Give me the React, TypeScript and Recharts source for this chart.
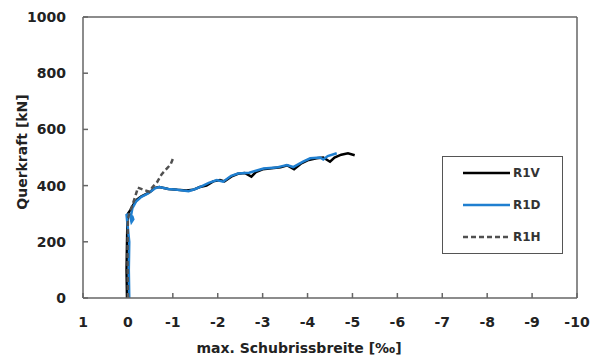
import { Line, LineChart, ReferenceLine, XAxis, YAxis } from 'recharts';

// Querkraft [kN] über max. Schubrissbreite [‰] für R1V, R1D, R1H
const R1V_X = [0.02, 0.03, 0.02, 0.01, 0.0, -0.05, -0.12, -0.2, -0.3, -0.4, -0.5, -0.6, -0.7, -0.9, -1.1, -1.3, -1.45, -1.6, -1.75, -1.9, -2.05, -2.15, -2.3, -2.45, -2.6, -2.75, -2.85, -3.0, -3.2, -3.4, -3.55, -3.7, -3.85, -4.0, -4.2, -4.35, -4.5, -4.6, -4.75, -4.9, -5.05];
const R1V_Y = [0, 100, 200, 280, 300, 312, 332, 350, 362, 370, 378, 392, 395, 388, 385, 383, 385, 395, 400, 415, 420, 415, 432, 442, 445, 432, 448, 458, 462, 465, 472, 458, 478, 490, 497, 500, 485, 500, 510, 515, 508];

const R1D_X = [-0.03, -0.02, -0.03, 0.03, -0.02, -0.1, -0.12, -0.08, -0.06, -0.1, -0.18, -0.3, -0.45, -0.6, -0.7, -0.9, -1.1, -1.35, -1.5, -1.65, -1.8, -1.98, -2.12, -2.3, -2.45, -2.7, -2.85, -3.02, -3.3, -3.54, -3.68, -3.9, -4.06, -4.28, -4.35, -4.45, -4.65];
const R1D_Y = [0, 100, 200, 295, 298, 290, 280, 270, 285, 320, 343, 360, 372, 390, 395, 388, 385, 380, 388, 398, 410, 420, 414, 435, 443, 446, 453, 461, 464, 473, 466, 485, 497, 500, 493, 505, 515];

const R1H_X = [0.0, 0.01, 0.0, -0.03, -0.1, -0.2, -0.22, -0.35, -0.48, -0.55, -0.65, -0.75, -0.85, -0.95, -1.0];
const R1H_Y = [0, 150, 280, 300, 330, 380, 393, 385, 378, 395, 412, 440, 458, 475, 495];

const X_TICKS = [1, 0, -1, -2, -3, -4, -5, -6, -7, -8, -9, -10];
const Y_TICKS = [0, 200, 400, 600, 800, 1000];

const SERIES = [
  { name: 'R1V', color: '#000000', dash: undefined as string | undefined },
  { name: 'R1D', color: '#1f7fd0', dash: undefined as string | undefined },
  { name: 'R1H', color: '#505050', dash: '5 3' },
];

const zip = (xs: number[], ys: number[]) => xs.map((x, i) => ({ x, y: ys[i] }));

const FONT = '"DejaVu Sans", sans-serif';
const AXIS = '#666666';
const TICK = { fontFamily: FONT, fontWeight: 700, fontSize: 14, fill: '#222' };

const LegendBox = () => (
  <div
    style={{
      position: 'absolute',
      left: 442,
      top: 156,
      width: 121,
      height: 98,
      boxSizing: 'border-box',
      border: '1.5px solid #555',
      background: '#fff',
    }}
  >
    <svg width={118} height={95}>
      {SERIES.map((s, i) => (
        <g key={s.name} transform={`translate(0, ${16 + i * 32})`}>
          <line x1={20} x2={67} y1={0} y2={0} stroke={s.color} strokeWidth={2.5} strokeDasharray={s.dash} />
          <text x={70} y={4} fontFamily={FONT} fontWeight={700} fontSize={12} fill="#333">
            {s.name}
          </text>
        </g>
      ))}
    </svg>
  </div>
);

export default function App() {
  const data = [zip(R1V_X, R1V_Y), zip(R1D_X, R1D_Y), zip(R1H_X, R1H_Y)];

  return (
    <div style={{ position: 'absolute', left: 0, top: 0, width: 591, height: 361, background: '#fff' }}>
      <LineChart width={591} height={361} margin={{ top: 17, right: 14, bottom: 3, left: 33 }}>
        <XAxis
          type="number"
          dataKey="x"
          domain={[-10, 1]}
          reversed
          ticks={X_TICKS}
          interval={0}
          allowDataOverflow
          height={60}
          stroke={AXIS}
          strokeWidth={1.5}
          tickSize={-5}
          tickMargin={24}
          tick={TICK}
          label={{
            content: () => (
              <text x={299} y={353} textAnchor="middle" fontFamily={FONT} fontWeight={700} fontSize={14} fill="#222">
                max. Schubrissbreite [‰]
              </text>
            ),
          }}
        />
        <YAxis
          type="number"
          dataKey="y"
          domain={[0, 1000]}
          ticks={Y_TICKS}
          interval={0}
          width={50}
          stroke={AXIS}
          strokeWidth={1.5}
          tickSize={-5}
          tickMargin={22}
          tick={TICK}
          label={{
            content: () => (
              <text
                x={22}
                y={152}
                transform="rotate(-90, 22, 152)"
                textAnchor="middle"
                dominantBaseline="central"
                fontFamily={FONT}
                fontWeight={700}
                fontSize={14}
                fill="#222"
              >
                Querkraft [kN]
              </text>
            ),
          }}
        />
        <ReferenceLine y={1000} stroke={AXIS} strokeWidth={1.5} />
        <ReferenceLine x={-10} stroke={AXIS} strokeWidth={1.5} />
        {SERIES.map((s, i) => (
          <Line
            key={s.name}
            data={data[i]}
            dataKey="y"
            name={s.name}
            type="linear"
            stroke={s.color}
            strokeWidth={2.5}
            strokeDasharray={s.dash}
            dot={false}
            isAnimationActive={false}
          />
        ))}
      </LineChart>
      <LegendBox />
    </div>
  );
}
